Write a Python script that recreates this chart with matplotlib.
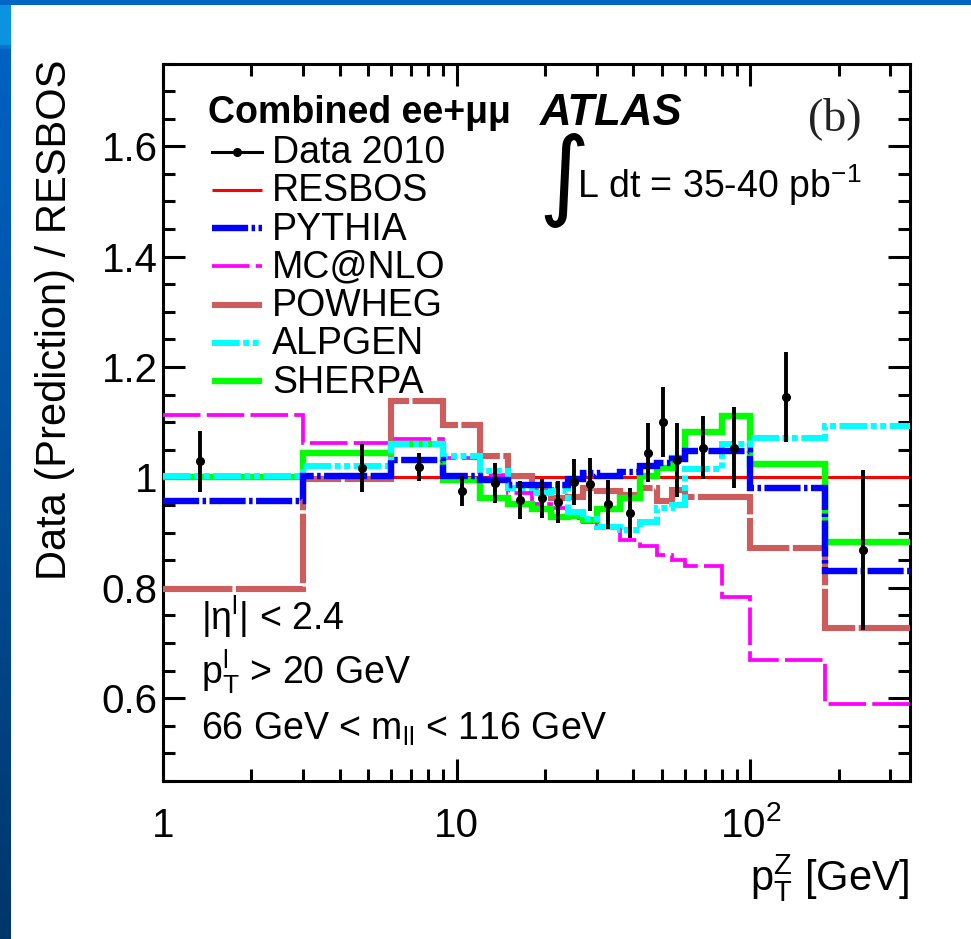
import numpy as np
import matplotlib
matplotlib.use("Agg")
import matplotlib.pyplot as plt
from matplotlib.lines import Line2D
from matplotlib.patches import Rectangle
from matplotlib.colors import LinearSegmentedColormap
from matplotlib.ticker import FixedLocator, MultipleLocator, LogLocator, NullFormatter, FuncFormatter
from matplotlib.transforms import blended_transform_factory

plt.rcParams['font.family'] = ['Liberation Sans', 'DejaVu Sans']
plt.rcParams['mathtext.fontset'] = 'custom'
plt.rcParams['mathtext.rm'] = 'Liberation Sans'
plt.rcParams['mathtext.it'] = 'Liberation Sans:italic'
plt.rcParams['mathtext.bf'] = 'Liberation Sans:bold'
plt.rcParams['lines.scale_dashes'] = False

# pT(Z) bin edges [GeV] (first bin clipped at the axis start)
bin_edges = [1, 3, 6, 9, 12, 15, 18, 21, 24, 27, 30, 36, 42, 48, 54, 60, 80, 100, 180, 350]

# Data / prediction ratios, one value per bin
resbos = [1.0] * 19
pythia = [0.957, 1.002, 1.031, 1.003, 0.995, 0.986, 0.986, 0.986, 0.997, 1.008,
          1.003, 1.009, 1.020, 1.027, 1.033, 1.048, 1.048, 0.980, 0.831]
mcatnlo = [1.114, 1.063, 1.069, 1.035, 1.005, 0.972, 0.951, 0.945, 0.926, 0.920,
           0.910, 0.886, 0.876, 0.859, 0.850, 0.840, 0.784, 0.669, 0.589]
powheg = [0.797, 0.998, 1.139, 1.095, 1.038, 1.003, 0.977, 0.962, 0.964, 0.980,
          0.975, 0.968, 0.980, 0.958, 0.978, 0.964, 0.964, 0.872, 0.728]
alpgen = [1.002, 1.020, 1.060, 1.038, 1.011, 0.980, 0.971, 0.975, 0.937, 0.924,
          0.911, 0.905, 0.920, 0.945, 0.950, 1.015, 1.060, 1.072, 1.093]
sherpa = [1.000, 1.044, 1.060, 0.995, 0.963, 0.951, 0.943, 0.928, 0.930, 0.922,
          0.942, 0.962, 1.003, 1.017, 1.035, 1.082, 1.111, 1.025, 0.883]

# Measured points: pT position, ratio and uncertainty
data_pt = [1.34, 4.78, 7.42, 10.4, 13.5, 16.5, 19.6, 22.1, 25.2, 28.4,
           32.7, 38.9, 44.8, 50.3, 56.2, 68.9, 87.9, 132, 242]
data_ratio = [1.029, 1.017, 1.019, 0.976, 0.990, 0.959, 0.962, 0.955, 0.992, 0.988,
              0.951, 0.935, 1.045, 1.100, 1.031, 1.054, 1.054, 1.146, 0.868]
data_err = [0.055, 0.043, 0.025, 0.027, 0.037, 0.035, 0.035, 0.038, 0.042, 0.048,
            0.045, 0.045, 0.053, 0.063, 0.067, 0.057, 0.074, 0.081, 0.145]

x_ticks = [1, 10, 100]
x_tick_labels = ['1', '10', r'10$^{\mathregular{2}}$']
y_ticks = [0.6, 0.8, 1.0, 1.2, 1.4, 1.6]

W, H = 971, 939
def fx(x):
    return x / W
def fy(y):
    return 1 - y / H

fig = plt.figure(figsize=(W / 100, H / 100), dpi=100, facecolor='white')

# slide frame: blue strip on top and gradient strip on the left
fig.add_artist(Rectangle((0, fy(5)), 1, 5 / H, transform=fig.transFigure,
                         facecolor='#0066c4', edgecolor='none', zorder=0))
band = fig.add_axes([0, 0, 11 / W, fy(5)])
grad = np.linspace(0, 1, 512)[:, None]
cmap = LinearSegmentedColormap.from_list(
    'frame', [(0, '#0b93e2'), (0.04, '#0b93e2'), (0.045, '#0062c2'), (0.5, '#004f9c'), (1, '#00366a')])
band.imshow(grad, aspect='auto', cmap=cmap, extent=[0, 1, 0, 1], origin='upper')
band.axis('off')

ax = fig.add_axes([fx(163), fy(781), 747 / W, 717.5 / H])
ax.set_xscale('log')
ax.set_xlim(1, 350)
ax.set_ylim(0.45, 1.75)

styles = {
    'RESBOS': dict(color='#ff0000', lw=2.2, ls='-'),
    'PYTHIA': dict(color='#0000ff', lw=4.6, ls=(0, (26, 2.5, 2.5, 2.5))),
    'MC@NLO': dict(color='#ff00ff', lw=2.7, ls=(0, (27, 4.5))),
    'POWHEG': dict(color='#cd5c5c', lw=4.4, ls=(0, (50, 2.5))),
    'ALPGEN': dict(color='#00ffff', lw=4.3, ls=(0, (20, 2.5, 4.3, 2.5, 4.3, 2.5))),
    'SHERPA': dict(color='#00ff00', lw=4.6, ls='-'),
}
series = [('RESBOS', resbos, 2), ('POWHEG', powheg, 3), ('MC@NLO', mcatnlo, 4),
          ('SHERPA', sherpa, 5), ('ALPGEN', alpgen, 6), ('PYTHIA', pythia, 7)]
for name, vals, z in series:
    st = styles[name]
    ax.stairs(vals, bin_edges, baseline=None, color=st['color'], linewidth=st['lw'],
              linestyle=st['ls'], zorder=z)

ax.errorbar(data_pt, data_ratio, yerr=data_err, fmt='o', color='black', ms=5.5,
            elinewidth=2.8, capsize=0, zorder=10)

# axes styling
for sp in ax.spines.values():
    sp.set_linewidth(2.2)
ax.xaxis.set_major_locator(FixedLocator(x_ticks))
ax.xaxis.set_minor_locator(LogLocator(base=10, subs=np.arange(2, 10)))
ax.xaxis.set_major_formatter(NullFormatter())
ax.xaxis.set_minor_formatter(NullFormatter())
ax.yaxis.set_major_locator(FixedLocator(y_ticks))
ax.yaxis.set_minor_locator(MultipleLocator(0.05))
ax.yaxis.set_major_formatter(FuncFormatter(lambda v, p: '%g' % round(v, 2)))
ax.tick_params(which='both', direction='in', top=True, right=True, width=2.2)
ax.tick_params(which='major', length=16)
ax.tick_params(which='minor', length=8.5)
ax.tick_params(axis='y', which='major', labelsize=29, pad=4)

trans = blended_transform_factory(ax.transData, ax.transAxes)
for v, lab in zip(x_ticks, x_tick_labels):
    ax.text(v, (781 - 837) / 717.5, lab, transform=trans, ha='center', va='baseline', fontsize=29)

# axis titles
fig.text(fx(55), fy(60), 'Data (Prediction) / RESBOS', rotation=90, ha='center', va='top', fontsize=30)
fig.text(fx(910), fy(890), r'p$_{\mathregular{T}}^{\mathregular{Z}}$ [GeV]', ha='right', va='baseline', fontsize=30)

# legend
fig.text(fx(208), fy(123), 'Combined ee+μμ', fontweight='bold', fontsize=27, ha='left', va='baseline')
legend_rows = ['Data 2010', 'RESBOS', 'PYTHIA', 'MC@NLO', 'POWHEG', 'ALPGEN', 'SHERPA']
for i, name in enumerate(legend_rows):
    base = 163 + 38.3 * i
    ly = fy(base - 11.5)
    if name == 'Data 2010':
        fig.add_artist(Line2D([fx(212), fx(262)], [ly, ly], color='black', lw=2.2,
                              transform=fig.transFigure))
        fig.add_artist(Line2D([fx(237)], [ly], color='black', marker='o', ms=5.5,
                              transform=fig.transFigure))
    else:
        st = styles[name]
        fig.add_artist(Line2D([fx(212), fx(262)], [ly, ly], color=st['color'], lw=st['lw'],
                              linestyle=st['ls'], solid_capstyle='butt', dash_capstyle='butt',
                              transform=fig.transFigure))
    fig.text(fx(272), fy(base), name, fontsize=27, ha='left', va='baseline')

# labels
fig.text(fx(540), fy(125), 'ATLAS', fontsize=31.5, fontweight='bold', fontstyle='italic',
         ha='left', va='baseline')
fig.text(fx(808), fy(130), '(b)', fontsize=33, family='Liberation Serif', color='#222222',
         ha='left', va='baseline')
fig.text(fx(538), fy(181), r'$\int$', fontsize=50, math_fontfamily='dejavusans',
         ha='left', va='center')
fig.text(fx(577), fy(198), r'L dt = 35-40 pb$^{\mathregular{-1}}$', fontsize=27, ha='left', va='baseline')

fig.text(fx(201), fy(630), r'$\mathregular{|\eta^{l}|}$ < 2.4', fontsize=27, ha='left', va='baseline')
fig.text(fx(201), fy(683), r'p$_{\mathregular{T}}^{\mathregular{l}}$ > 20 GeV', fontsize=27, ha='left', va='baseline')
fig.text(fx(201), fy(740), r'66 GeV < m$_{\mathregular{ll}}$ < 116 GeV', fontsize=27, ha='left', va='baseline')

fig.savefig('out.png', dpi=100, facecolor='white')
